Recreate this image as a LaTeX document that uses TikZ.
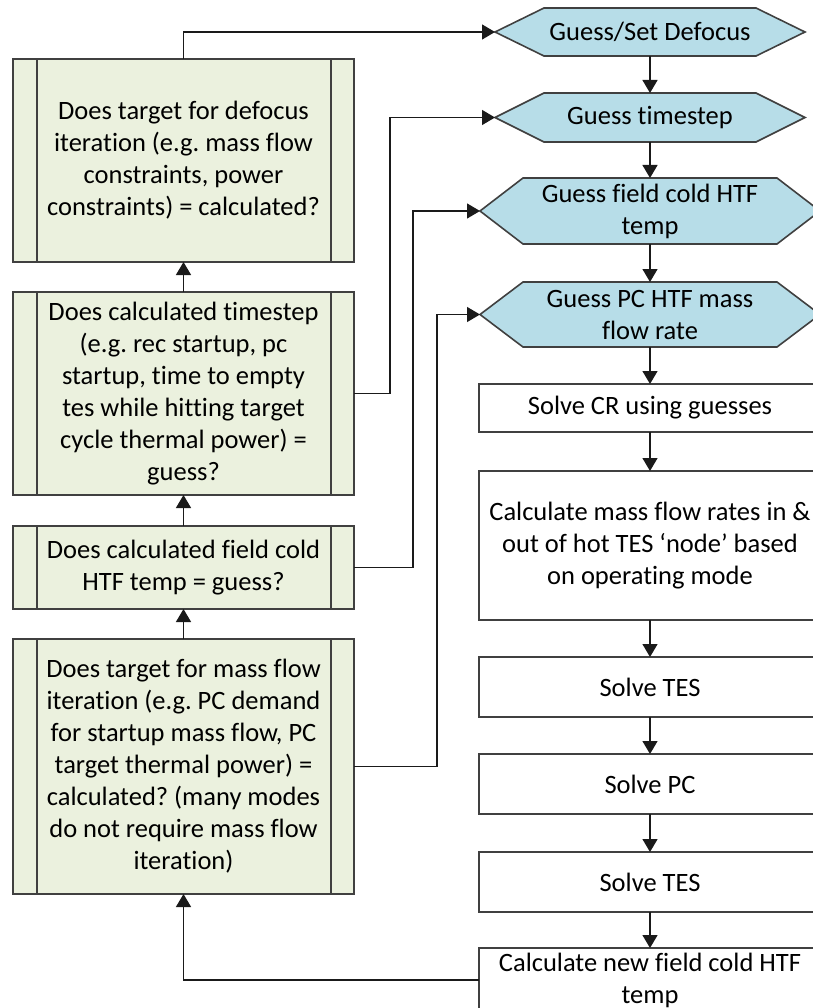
\documentclass[tikz,border=0pt]{standalone}
\usepackage{fontspec}
\setmainfont{Carlito}[Ligatures=NoCommon]
\frenchspacing
\usetikzlibrary{arrows.meta,backgrounds,calc}
\definecolor{greenfill}{HTML}{EBF1DE}
\definecolor{hexfill}{HTML}{B7DDE8}
\definecolor{bordercol}{HTML}{404040}
\definecolor{linecol}{HTML}{1A1A1A}
\newcommand\hexbg[2]{%
  \begin{scope}[on background layer]
    \draw[hexdraw] ([xshift=-#2]#1.west) -- (#1.north west) -- (#1.north east)
      -- ([xshift=#2]#1.east) -- (#1.south east) -- (#1.south west) -- cycle;
  \end{scope}}
\tikzset{
  txt/.style={font=\fontsize{26.5}{32}\selectfont, align=center, text=black},
  procbox/.style={txt, draw=bordercol, fill=greenfill, line width=1.6pt,
    minimum width=341, inner sep=0pt, outer sep=0pt,
    path picture={
      \draw[bordercol, line width=1.6pt]
        ([xshift=24]path picture bounding box.north west) -- ([xshift=24]path picture bounding box.south west)
        ([xshift=-23]path picture bounding box.north east) -- ([xshift=-23]path picture bounding box.south east);}},
  stepbox/.style={txt, draw=bordercol, fill=white, line width=1.6pt,
    minimum width=342, inner sep=0pt, outer sep=0pt},
  hexnode/.style={txt, inner sep=0pt, outer sep=0pt},
  hexdraw/.style={draw=bordercol, fill=hexfill, line width=1.6pt},
  arr/.style={draw=linecol, line width=1.3pt, -{Triangle[length=13pt,width=15pt]}},
  ln/.style={draw=linecol, line width=1.3pt}
}
\begin{document}
\begin{tikzpicture}[x=1pt,y=-1pt]
\useasboundingbox (0,0) rectangle (812,1008);

% left process boxes
\node[procbox, minimum height=203] (b1) at (183.5,160.5)
  {Does target for defocus\\iteration (e.g. mass flow\\constraints, power\\constraints) = calculated?};
\node[procbox, minimum height=203] (b2) at (183.5,393.5)
  {Does calculated timestep\\(e.g. rec startup, pc\\startup, time to empty\\tes while hitting target\\cycle thermal power) =\\guess?};
\node[procbox, minimum height=83] (b3) at (183.5,567.5)
  {Does calculated field cold\\HTF temp = guess?};
\node[procbox, minimum height=255] (b4) at (183.5,766.5)
  {Does target for mass flow\\iteration (e.g. PC demand\\for startup mass flow, PC\\target thermal power) =\\calculated? (many modes\\do not require mass flow\\iteration)};

% hexagons
\node[hexnode, minimum width=212, minimum height=48] (h1) at (650,32) {Guess/Set Defocus};
\hexbg{h1}{49}
\node[hexnode, minimum width=212, minimum height=49] (h2) at (650,117.5) {Guess timestep};
\hexbg{h2}{49}
\node[hexnode, minimum width=254, minimum height=66] (h3) at (650,211) {Guess field cold HTF\\temp};
\hexbg{h3}{43}
\node[hexnode, minimum width=254, minimum height=65] (h4) at (650,314.5) {Guess PC HTF mass\\flow rate};
\hexbg{h4}{43}
\coordinate (h1w) at ([xshift=-49]h1.west);
\coordinate (h2w) at ([xshift=-49]h2.west);
\coordinate (h3w) at ([xshift=-43]h3.west);
\coordinate (h4w) at ([xshift=-43]h4.west);

% right step boxes
\node[stepbox, minimum height=48] (cr) at (650,408) {Solve CR using guesses};
\node[stepbox, minimum height=149] (mf) at (650,545.5)
  {Calculate mass flow rates in \&\\out of hot TES `node' based\\on operating mode};
\node[stepbox, minimum height=60] (t1) at (650,687) {Solve TES};
\node[stepbox, minimum height=60] (pc) at (650,784) {Solve PC};
\node[stepbox, minimum height=60] (t2) at (650,882) {Solve TES};
\node[stepbox, minimum height=64] (cn) at (650,980) {Calculate new field cold HTF\\temp};

% right column arrows
\draw[arr] (h1.south) -- (h2.north);
\draw[arr] (h2.south) -- (h3.north);
\draw[arr] (h3.south) -- (h4.north);
\draw[arr] (h4.south) -- (cr.north);
\draw[arr] (cr.south) -- (mf.north);
\draw[arr] (mf.south) -- (t1.north);
\draw[arr] (t1.south) -- (pc.north);
\draw[arr] (pc.south) -- (t2.north);
\draw[arr] (t2.south) -- (cn.north);

% left column arrows
\draw[arr] (b4.north) -- (b3.south);
\draw[arr] (b3.north) -- (b2.south);
\draw[arr] (b2.north) -- (b1.south);

% feedback connectors
\draw[arr] (b1.north) |- (h1w);
\draw[arr] (b2.east) -- ++(36,0) |- (h2w);
\draw[arr] (b3.east) -- ++(59,0) |- (h3w);
\draw[arr] (b4.east) -- ++(83,0) |- (h4w);
\draw[arr] (cn.west) -| (b4.south);
\end{tikzpicture}
\end{document}
